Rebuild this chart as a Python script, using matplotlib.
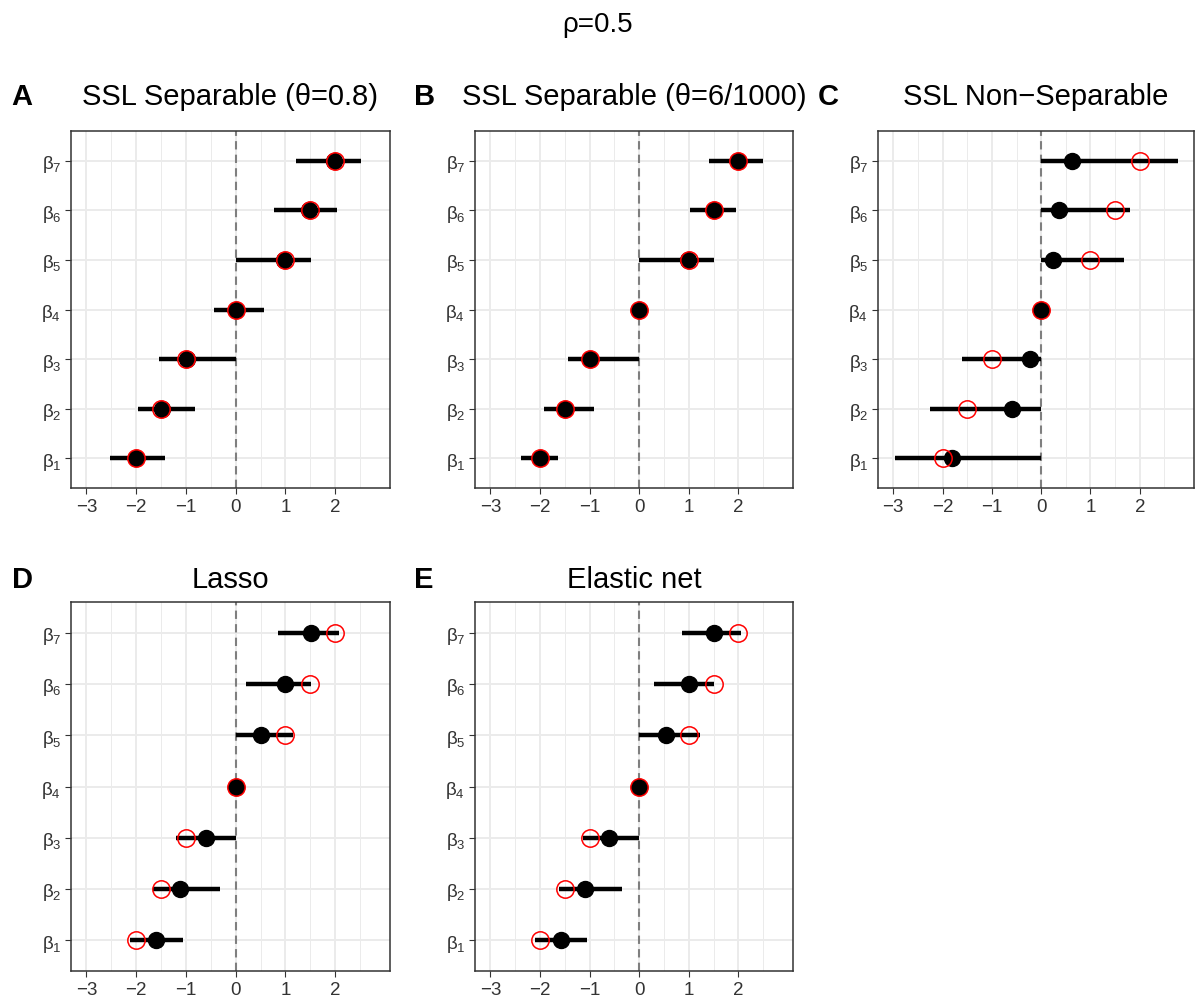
import matplotlib
matplotlib.use("Agg")
import matplotlib.pyplot as plt
from matplotlib.ticker import FixedLocator

plt.rcParams['font.family'] = ['Liberation Sans', 'DejaVu Sans']
plt.rcParams['mathtext.fontset'] = 'custom'
plt.rcParams['mathtext.rm'] = 'Liberation Sans'
plt.rcParams['mathtext.it'] = 'Liberation Sans:italic'
plt.rcParams['axes.unicode_minus'] = True

# Coefficient labels (β1 ... β7)
coef_labels = [f"β$_{{{i}}}$" for i in range(1, 8)]
true_values = [-2.0, -1.5, -1.0, 0.0, 1.0, 1.5, 2.0]

titles = ["SSL Separable (θ=0.8)", "SSL Separable (θ=6/1000)",
          "SSL Non−Separable", "Lasso", "Elastic net"]
panel_tags = ["A", "B", "C", "D", "E"]

# Posterior / estimated point values per method
est_A = [-2.00, -1.49, -0.97, 0.00, 0.98, 1.48, 1.98]
est_B = [-2.00, -1.50, -1.00, 0.00, 0.99, 1.50, 2.00]
est_C = [-1.80, -0.59, -0.23, 0.00, 0.24, 0.37, 0.62]
est_D = [-1.61, -1.11, -0.60, 0.00, 0.51, 0.99, 1.51]
est_E = [-1.58, -1.10, -0.61, 0.00, 0.53, 1.00, 1.50]

# Interval lower bounds
lo_A = [-2.53, -1.96, -1.55, -0.43, 0.00, 0.77, 1.22]
lo_B = [-2.39, -1.91, -1.43, 0.00, 0.00, 1.03, 1.41]
lo_C = [-2.97, -2.26, -1.61, 0.00, 0.00, 0.00, 0.00]
lo_D = [-2.13, -1.67, -1.21, 0.00, 0.00, 0.21, 0.85]
lo_E = [-2.11, -1.61, -1.13, 0.00, 0.00, 0.29, 0.86]

# Interval upper bounds
hi_A = [-1.42, -0.81, 0.00, 0.57, 1.52, 2.04, 2.51]
hi_B = [-1.63, -0.91, 0.00, 0.00, 1.50, 1.95, 2.49]
hi_C = [0.00, 0.00, 0.00, 0.00, 1.67, 1.81, 2.78]
hi_D = [-1.05, -0.32, 0.00, 0.00, 1.15, 1.52, 2.07]
hi_E = [-1.05, -0.34, 0.00, 0.00, 1.23, 1.51, 2.05]

estimates = [est_A, est_B, est_C, est_D, est_E]
lowers = [lo_A, lo_B, lo_C, lo_D, lo_E]
uppers = [hi_A, hi_B, hi_C, hi_D, hi_E]

x_ticks = [-3, -2, -1, 0, 1, 2]

W, H = 1196, 1003
fig = plt.figure(figsize=(W / 100, H / 100), dpi=100)

# panel boxes in pixels: left, top, right, bottom
boxes = [
    (71, 132, 390, 489),
    (475, 132, 793, 489),
    (878, 132, 1194, 489),
    (71, 603, 390, 972),
    (475, 603, 793, 972),
]

grey_grid = "#EBEBEB"
frame_col = "#333333"

for k in range(5):
    l, t, r, b = boxes[k]
    ax = fig.add_axes([l / W, 1 - b / H, (r - l) / W, (b - t) / H])
    y = list(range(1, 8))

    ax.set_xlim(-3.31, 3.10)
    ax.set_ylim(0.4, 7.6)
    ax.xaxis.set_major_locator(FixedLocator(x_ticks))
    ax.xaxis.set_minor_locator(FixedLocator([-2.5, -1.5, -0.5, 0.5, 1.5, 2.5]))
    ax.yaxis.set_major_locator(FixedLocator(y))
    ax.set_yticklabels(coef_labels)
    ax.grid(which="major", color=grey_grid, lw=1.4, zorder=0)
    ax.grid(which="minor", axis="x", color=grey_grid, lw=0.7, zorder=0)
    ax.set_axisbelow(True)
    ax.tick_params(which="minor", length=0)
    ax.tick_params(which="major", length=4, width=0.8, color=frame_col,
                   labelsize=13.5, labelcolor="#333333", pad=3)
    for s in ax.spines.values():
        s.set_color(frame_col)
        s.set_linewidth(1.1)

    ax.axvline(0, color="#7F7F7F", lw=1.5, ls=(0, (4, 2.5)), zorder=1)
    ax.hlines(y, lowers[k], uppers[k], color="black", lw=3.2,
              capstyle="butt", zorder=2)
    ax.plot(estimates[k], y, "o", color="black", ms=11.5, mec="black",
            zorder=3, ls="none")
    ax.plot(true_values, y, "o", mfc="none", mec="red", ms=12.5, mew=1.1,
            zorder=4, ls="none")

    cx = (l + r) / 2
    ty = 97 if k < 3 else 580
    fig.text(cx / W, 1 - ty / H, titles[k], ha="center", va="center",
             fontsize=21)
    tag_x = {0: 22, 1: 425, 2: 828, 3: 22, 4: 424}[k]
    fig.text(tag_x / W, 1 - ty / H, panel_tags[k], ha="center", va="center",
             fontsize=21, fontweight="bold")

fig.text(0.5, 1 - 25 / H, "ρ=0.5", ha="center", va="center", fontsize=20)

fig.savefig("out.png", dpi=100, facecolor="white")
